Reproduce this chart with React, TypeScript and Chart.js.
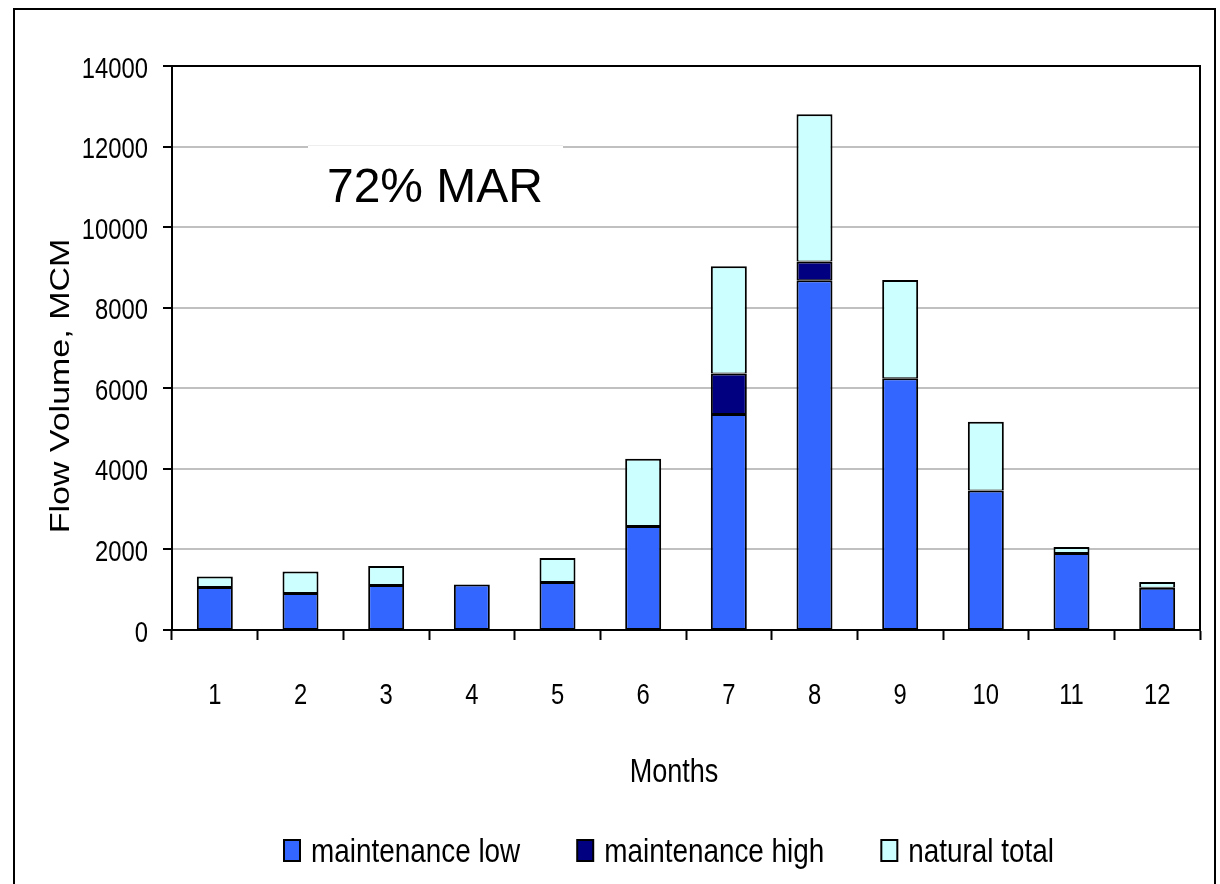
import { useEffect, useRef } from "react";
import { Chart, registerables } from "chart.js";

Chart.register(...registerables);

// ---- data ----
const months = ["1", "2", "3", "4", "5", "6", "7", "8", "9", "10", "11", "12"];
const maintenanceLow = [1070, 920, 1120, 1130, 1190, 2580, 5360, 8680, 6250, 3460, 1910, 1050];
const maintenanceHigh = [null, null, null, null, null, null, 1010, 470, null, null, null, null];
const naturalTotal = [260, 530, 470, null, 600, 1670, 2660, 3650, 2440, 1710, 150, 140];
const seriesNames = ["maintenance low", "maintenance high", "natural total"];
const seriesColors = ["#3366FF", "#000080", "#CCFFFF"];
const yMin = 0;
const yMax = 14000;
const yStep = 2000;
const yTitle = "Flow Volume, MCM";
const xTitle = "Months";
const noteText = "72% MAR";

const REG = "'Liberation Sans', Arial, sans-serif";
const SQ = 0.82; // horizontal squeeze of the reference text

function squeezedText(ctx: any, text: string, x: number, y: number, align: string, size: number) {
  ctx.save();
  ctx.translate(x, y);
  ctx.scale(SQ, 1);
  ctx.font = `${size}px ${REG}`;
  ctx.textAlign = align;
  ctx.textBaseline = "alphabetic";
  ctx.fillStyle = "#000";
  ctx.fillText(text, 0, 0);
  ctx.restore();
}

const decorPlugin = {
  id: "decor",
  beforeDatasetsDraw(chart: any) {
    const ctx = chart.ctx;
    ctx.save();
    // white text box covering gridline
    ctx.fillStyle = "#ffffff";
    ctx.fillRect(308, 145, 255, 72);
    ctx.strokeStyle = "#eeeeee";
    ctx.lineWidth = 1;
    ctx.beginPath();
    ctx.moveTo(308, 145.5);
    ctx.lineTo(563, 145.5);
    ctx.stroke();
    ctx.fillStyle = "#000";
    ctx.font = `48px ${REG}`;
    ctx.textAlign = "center";
    ctx.textBaseline = "alphabetic";
    ctx.fillText(noteText, 435, 202);
    ctx.restore();
  },
  afterDraw(chart: any) {
    const ctx = chart.ctx;
    const a = chart.chartArea;
    ctx.save();
    // plot area frame
    ctx.strokeStyle = "#000";
    ctx.lineWidth = 2;
    ctx.strokeRect(a.left, a.top, a.right - a.left, a.bottom - a.top);
    // outer frame
    ctx.strokeRect(14, 9, 1201, 900);

    // y tick labels
    const ys = chart.scales.y;
    ys.ticks.forEach((t: any) => {
      const py = ys.getPixelForValue(t.value);
      squeezedText(ctx, String(t.value), a.left - 24, py + 11.5, "right", 29);
    });
    // x tick labels
    const xs = chart.scales.x;
    chart.data.labels.forEach((lab: string, i: number) => {
      squeezedText(ctx, lab, xs.getPixelForTick(i), 704, "center", 29);
    });
    // x title
    squeezedText(ctx, xTitle, 674, 782, "center", 33);
    // y title (rotated)
    ctx.save();
    ctx.translate(69, 386);
    ctx.rotate(-Math.PI / 2);
    ctx.scale(1, SQ);
    ctx.font = `34px ${REG}`;
    ctx.textAlign = "center";
    ctx.textBaseline = "alphabetic";
    ctx.fillStyle = "#000";
    ctx.fillText(yTitle, 0, 0);
    ctx.restore();

    // legend
    let x = 284;
    chart.data.datasets.forEach((ds: any) => {
      ctx.fillStyle = ds.backgroundColor;
      ctx.fillRect(x, 840, 16, 21);
      ctx.strokeStyle = "#000";
      ctx.lineWidth = 2;
      ctx.strokeRect(x, 840, 16, 21);
      squeezedText(ctx, ds.label, x + 27, 862, "left", 34);
      ctx.font = `34px ${REG}`;
      x += 27 + ctx.measureText(ds.label).width * SQ + 57;
    });
    ctx.restore();
  },
};

export default function App() {
  const ref = useRef<HTMLCanvasElement>(null);
  useEffect(() => {
    document.body.style.margin = "0";
    const canvas = ref.current!;
    const chart = new Chart(canvas, {
      type: "bar",
      data: {
        labels: months,
        datasets: [
          { label: seriesNames[0], data: maintenanceLow as any, backgroundColor: seriesColors[0] },
          { label: seriesNames[1], data: maintenanceHigh as any, backgroundColor: seriesColors[1] },
          { label: seriesNames[2], data: naturalTotal as any, backgroundColor: seriesColors[2] },
        ].map((d) => ({
          ...d,
          borderColor: "#000",
          borderWidth: { top: 2, left: 2, right: 2, bottom: 1 },
          borderSkipped: false,
          barPercentage: 0.42,
          categoryPercentage: 1,
        })),
      },
      options: {
        animation: false,
        responsive: false,
        devicePixelRatio: 1,
        layout: { padding: { left: 0, right: 20, top: 66, bottom: 84 } },
        plugins: { legend: { display: false }, tooltip: { enabled: false } },
        scales: {
          x: {
            stacked: true,
            afterFit: (s: any) => { s.height = 170; },
            grid: {
              drawOnChartArea: false,
              drawTicks: true,
              tickLength: 10,
              tickColor: "#000",
              tickWidth: 2,
              offset: true,
            },
            border: { color: "#000", width: 2 },
            ticks: { color: "rgba(0,0,0,0)", font: { family: REG, size: 24 }, padding: 33, maxRotation: 0 },
            title: { display: false },
          },
          y: {
            stacked: true,
            min: yMin,
            max: yMax,
            afterFit: (s: any) => { s.width = 172; },
            grid: {
              color: "#c0c0c0",
              lineWidth: 2,
              drawTicks: true,
              tickLength: 9,
              tickColor: "#000",
              tickWidth: 2,
            },
            border: { color: "#000", width: 2 },
            ticks: { stepSize: yStep, color: "rgba(0,0,0,0)", font: { family: REG, size: 24 }, padding: 15 },
            title: { display: false },
          },
        },
      },
      plugins: [decorPlugin],
    });
    return () => chart.destroy();
  }, []);
  return <canvas ref={ref} width={1220} height={884} style={{ display: "block" }} />;
}
